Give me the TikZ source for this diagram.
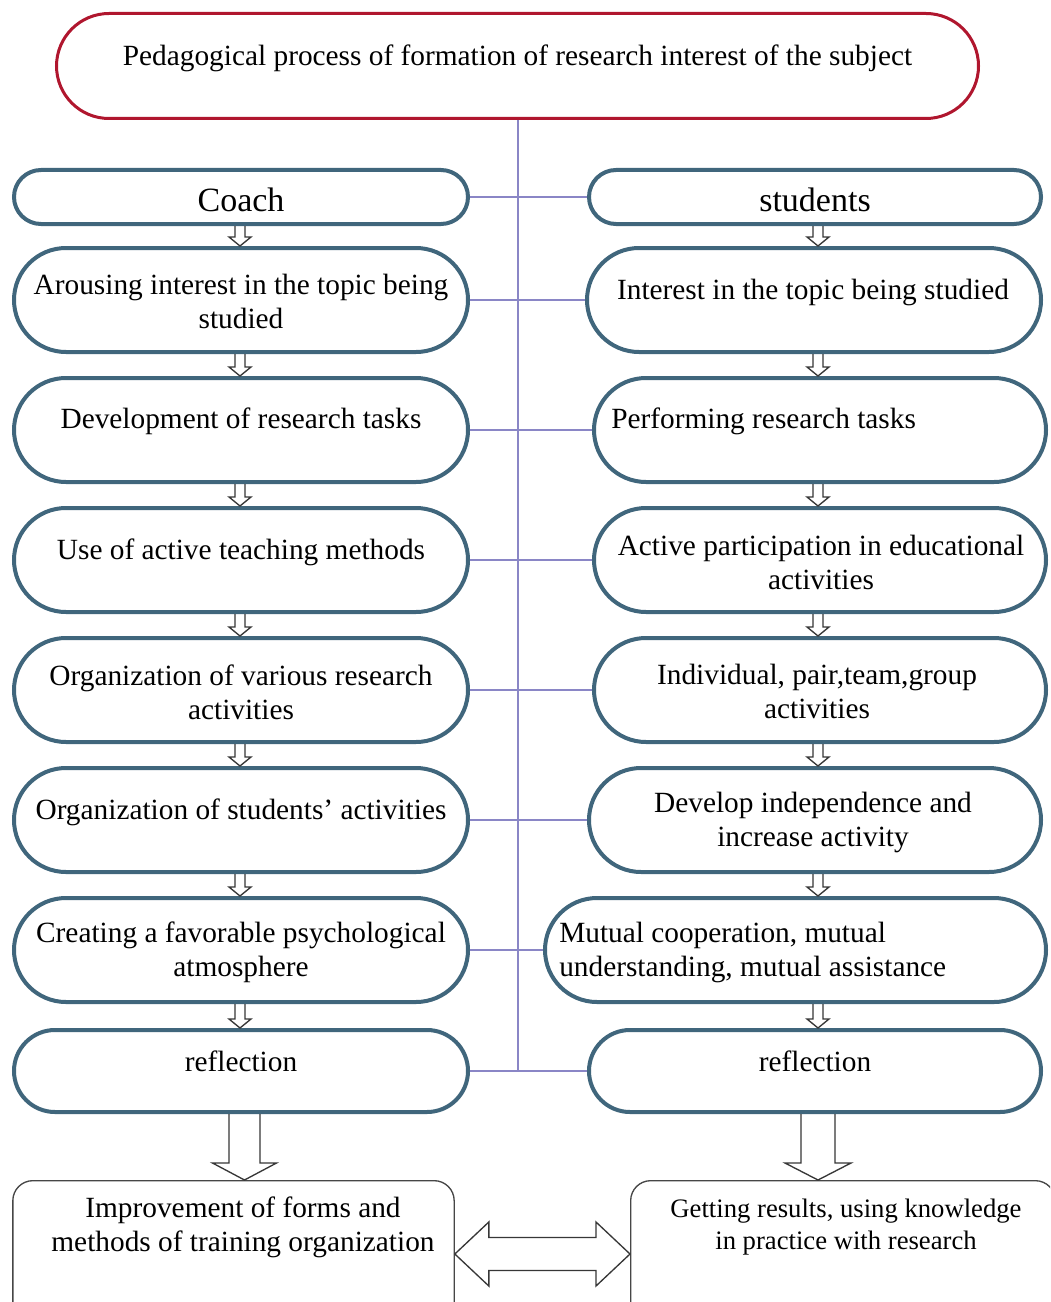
\documentclass[tikz,border=0pt]{standalone}
\usepackage{fontspec}
\setmainfont{Liberation Serif}
\usetikzlibrary{shapes.misc,calc}
\definecolor{boxblue}{RGB}{64,102,124}
\definecolor{topred}{RGB}{176,22,46}
\definecolor{linkviolet}{RGB}{138,134,198}
\definecolor{arrowgrey}{RGB}{55,55,55}
\definecolor{endgrey}{RGB}{70,70,70}
% vertical hollow block arrow: #1 start, #2 tip, #3 shaft half (px), #4 head half (px), #5 head length (px)
\newcommand{\vblockarrow}[5]{%
  \draw[blk] let \p1=(#1), \p2=(#2) in
    ({\x1-#3*0.75pt},\y1) -- ({\x1-#3*0.75pt},{\y2+#5*0.75pt}) --
    ({\x1-#4*0.75pt},{\y2+#5*0.75pt}) -- (\x1,\y2) --
    ({\x1+#4*0.75pt},{\y2+#5*0.75pt}) -- ({\x1+#3*0.75pt},{\y2+#5*0.75pt}) --
    ({\x1+#3*0.75pt},\y1);}
\begin{document}
\begin{tikzpicture}[x=0.75pt,y=-0.75pt,
  pill/.style={rounded rectangle, draw=boxblue, line width=3pt, fill=white, inner sep=0pt, minimum height=78pt},
  lpill/.style={pill, minimum width=340.5pt},
  rpill/.style={pill, minimum width=339pt},
  topbox/.style={rounded rectangle, draw=topred, line width=2.25pt, fill=white, inner sep=0pt},
  txt/.style={font=\fontsize{22}{25.5}\selectfont, align=center, inner sep=0pt},
  bigtxt/.style={font=\fontsize{25.5}{28}\selectfont, inner sep=0pt},
  link/.style={draw=linkviolet, line width=1.5pt},
  blk/.style={draw=arrowgrey, line width=1pt, line join=miter},
  endbox/.style={rectangle, rounded corners=15pt, draw=endgrey, line width=1pt, inner sep=0pt, minimum height=110pt}]
\useasboundingbox (0,0) rectangle (1050,1302);
\clip (0,0) rectangle (1050,1302);
\fill[white] (0,0) rectangle (1050,1302);

\coordinate (colL) at (240,0);
\coordinate (colR) at (818,0);
\coordinate (colLb) at (244.5,0);

% top
\node[topbox, minimum width=691.5pt, minimum height=78.75pt] (top) at (517.5,66) {};
\node[txt] (topt) at (517.5,58) {Pedagogical process of formation of research interest of the subject};

% boxes
\node[lpill, minimum height=40.5pt] (L1) at (241,197) {};
\node[rpill, minimum height=40.5pt] (R1) at (815,197) {};
\node[lpill] (L2) at (241,300) {};
\node[rpill, minimum width=340.5pt] (R2) at (814,300) {};
\node[lpill] (L3) at (241,430) {};
\node[rpill] (R3) at (820,430) {};
\node[lpill] (L4) at (241,560) {};
\node[rpill] (R4) at (820,560) {};
\node[lpill] (L5) at (241,690) {};
\node[rpill] (R5) at (820,690) {};
\node[lpill] (L6) at (241,820) {};
\node[rpill] (R6) at (815,820) {};
\node[lpill] (L7) at (241,950) {};
\node[rpill, minimum width=375.75pt] (R7) at (795.5,950) {};
\node[lpill, minimum height=61.5pt] (L8) at (241,1071) {};
\node[rpill, minimum height=61.5pt] (R8) at (815,1071) {};

% connectors
\draw[link] (top.south) |- (R8.west);
\foreach \i in {1,...,8} {\draw[link] (L\i.east) -- (R\i.west);}

% texts
\node[bigtxt] (L1t) at (241,200) {Coach};
\node[bigtxt] (R1t) at (815,200) {students};
\node[txt] (L2t) at (241,301) {Arousing interest in the topic being\\studied};
\node[txt] (R2t) at (813,292) {Interest in the topic being studied};
\node[txt] (L3t) at (241,421) {Development of research tasks};
\node[txt, anchor=west] (R3t) at (611,421) {Performing research tasks};
\node[txt] (L4t) at (241,552) {Use of active teaching methods};
\node[txt] (R4t) at (821,562) {Active participation in educational\\activities};
\node[txt] (L5t) at (241,692) {Organization of various research\\activities};
\node[txt] (R5t) at (817,691) {Individual, pair,team,group\\activities};
\node[txt] (L6t) at (241,812) {Organization of students' activities};
\node[txt] (R6t) at (813,822) {Develop independence and\\increase activity};
\node[txt] (L7t) at (241,952) {Creating a favorable psychological\\atmosphere};
\node[txt, align=left, anchor=west] (R7t) at (559,952) {Mutual cooperation, mutual\\understanding, mutual assistance};
\node[txt] (L8t) at (241,1061) {reflection};
\node[txt] (R8t) at (815,1061) {reflection};

% small down arrows
\foreach \i/\j in {1/2,2/3,3/4,4/5,5/6,6/7,7/8} {
  \vblockarrow{L\i.south -| colL}{L\j.north -| colL}{5}{11}{9}
  \vblockarrow{R\i.south -| colR}{R\j.north -| colR}{5}{11}{9}
}

% bottom boxes
\node[endbox, minimum width=331pt] (BL) at (233.5,1254) {};
\node[endbox, minimum width=318.5pt] (BR) at (843,1254) {};
\node[txt] (BLt) at (243,1227) {Improvement of forms and\\methods of training organization};
\node[txt, font=\fontsize{20}{24.5}\selectfont] (BRt) at (846,1227) {Getting results, using knowledge\\in practice with research};

% big down arrows
\vblockarrow{L8.south -| colLb}{BL.north -| colLb}{15.5}{32}{17}
\vblockarrow{R8.south -| colR}{BR.north -| colR}{17}{33}{17}

% double arrow
\draw[blk] let \p1=(BL.east), \p2=(BR.west) in
  (\x1,\y1) -- ({\x1+25.5pt},{\y1+24pt}) -- ({\x1+25.5pt},{\y1+12.4pt}) --
  ({\x2-25.5pt},{\y1+12.4pt}) -- ({\x2-25.5pt},{\y1+24pt}) -- (\x2,\y1) --
  ({\x2-25.5pt},{\y1-24pt}) -- ({\x2-25.5pt},{\y1-12.4pt}) --
  ({\x1+25.5pt},{\y1-12.4pt}) -- ({\x1+25.5pt},{\y1-24pt}) -- cycle;
\end{tikzpicture}
\end{document}
